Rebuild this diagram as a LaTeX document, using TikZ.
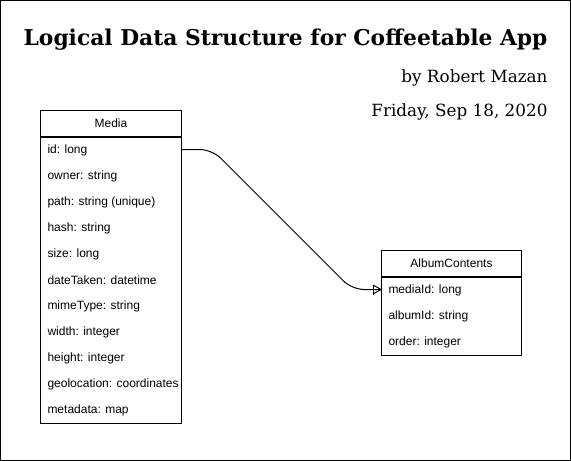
\documentclass[tikz,border=0pt]{standalone}
\usepackage{fontspec}
\setmainfont{DejaVu Serif}
\setsansfont{Liberation Sans}
\usetikzlibrary{positioning}

\begin{document}
\begin{tikzpicture}[x=1pt, y=-1pt, line width=1pt,
    entity/.style = {draw, minimum width=141pt,
        minimum height=26pt, inner sep=0pt,
        font=\sffamily\fontsize{12}{14}\selectfont},
    field/.style = {anchor=west, inner sep=0pt,
        font=\sffamily\fontsize{12}{14}\selectfont},
    heading/.style = {anchor=base east, inner sep=0pt}]

\useasboundingbox (0,0) rectangle (571,461);

% Frame
\draw (0.5,0.5) rectangle (570.5,460.5);

% Title block
\node[heading, font=\bfseries\fontsize{21.8}{26}\selectfont] (title) at (548,45) {Logical Data Structure for Coffeetable App};
\node[heading, font=\fontsize{16.8}{20}\selectfont] (author) at (548,82) {by Robert Mazan};
\node[heading, font=\fontsize{16.8}{20}\selectfont] (date) at (548,116) {Friday, Sep 18, 2020};

% Media
\node[entity, anchor=north west] (media) at (40,110) {Media};
\node[entity, minimum height=286pt, below=0pt of media] (mediabody) {};
\foreach \t [count=\i] in {id: long, owner: string, path: string (unique), hash: string, size: long, dateTaken: datetime, mimeType: string, width: integer, height: integer, geolocation: coordinates, metadata: map}
    \node[field] (m\i) at (47,150.5+26*\i-26) {\t};

% AlbumContents
\node[entity, minimum width=140pt, anchor=north west] (ac) at (381,250) {AlbumContents};
\node[entity, minimum width=140pt, minimum height=78pt, below=0pt of ac] (acbody) {};
\foreach \t [count=\i] in {mediaId: long, albumId: string, order: integer}
    \node[field] (a\i) at (388,290.5+26*\i-26) {\t};

% Relationship
\coordinate (foot) at (acbody.west |- 0,289.5);
\draw[rounded corners=12pt] (mediabody.east |- 0,149.5) -- ++(30,0) -- ++(140,140) -- (foot);
\draw (foot) -- ++(-8,-4.5) (foot) -- ++(-8,4.5);
\draw ([xshift=-8pt]foot) ++(0,-5) -- ++(0,10);
\end{tikzpicture}
\end{document}
